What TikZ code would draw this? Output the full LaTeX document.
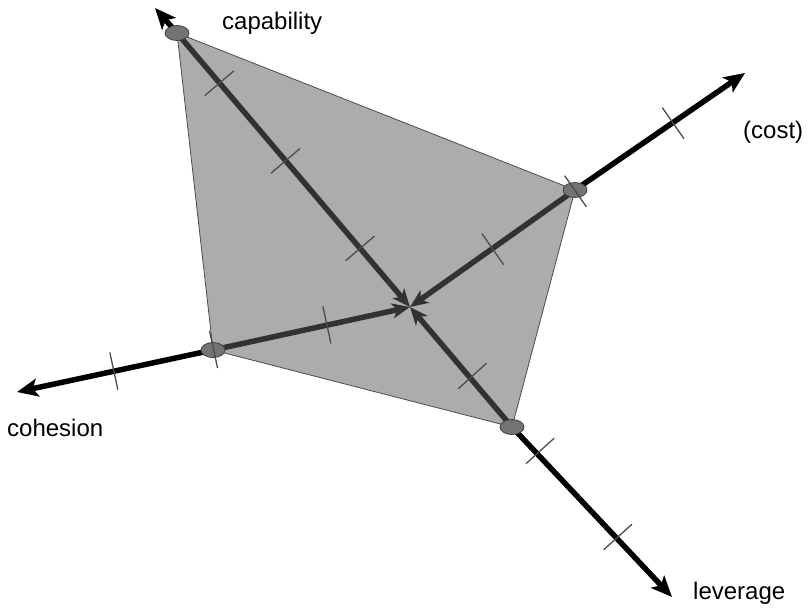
\documentclass[tikz,border=0pt]{standalone}
\usepackage{fontspec}
\setmainfont{Liberation Sans}
\usetikzlibrary{arrows.meta,shapes.geometric,calc,backgrounds}
\definecolor{polyfill}{RGB}{172,172,172}
\definecolor{innerline}{RGB}{50,50,50}
\newcommand\tickat[2]{%
  \coordinate (tp) at ($(C)!#1!(#2)$);
  \draw[tickmark] ($(tp)!19pt!90:(#2)$) -- ($(tp)!19pt!-90:(#2)$);}
\begin{document}
\begin{tikzpicture}[x=1pt,y=-1pt,
  dot/.style={ellipse,draw=black!75,fill=black!55,line width=0.8pt,minimum width=24pt,minimum height=15pt,inner sep=0pt},
  outer/.style={line width=5.5pt,black,-{Stealth[length=21pt,width=18pt,inset=5pt]}},
  inner/.style={line width=5.5pt,innerline,-{Stealth[length=18pt,width=15pt,inset=5pt]}},
  tickmark/.style={line width=1.3pt,black!70},
  poly/.style={fill=polyfill,draw=black!70,line width=0.8pt},
  lbl/.style={font=\fontsize{24}{28}\selectfont,anchor=base west,inner sep=0pt}]
\useasboundingbox (0,0) rectangle (808,608);
\coordinate (C) at (410,307);
\coordinate (capT) at (155,8);
\coordinate (costT) at (745,73);
\coordinate (levT) at (672,597);
\coordinate (cohT) at (17,392);
\node[dot] (cap) at (177,33) {};
\node[dot] (cost) at (575,190) {};
\node[dot] (lev) at (512,427) {};
\node[dot] (coh) at (213,350) {};
\begin{scope}[on background layer]
  \draw[poly] (cap.center) -- (cost.center) -- (lev.center) -- (coh.center) -- cycle;
  \draw[inner] (cap.center) -- (C);
  \draw[inner] (cost.center) -- (C);
  \draw[inner] (lev.center) -- (C);
  \draw[inner] (coh.center) -- (C);
  \draw[outer] (cap.center) -- (capT);
  \draw[outer] (cost.center) -- (costT);
  \draw[outer] (lev.center) -- (levT);
  \draw[outer] (coh.center) -- (cohT);
\end{scope}
\tickat{77pt}{capT}
\tickat{192pt}{capT}
\tickat{294pt}{capT}
\tickat{101pt}{costT}
\tickat{202pt}{costT}
\tickat{321pt}{costT}
\tickat{93pt}{levT}
\tickat{194pt}{levT}
\tickat{310pt}{levT}
\tickat{85pt}{cohT}
\tickat{201pt}{cohT}
\tickat{303pt}{cohT}
\node[lbl] (capL) at (222,29) {capability};
\node[lbl] (costL) at (743,138) {(cost)};
\node[lbl] (cohL) at (7,436) {cohesion};
\node[lbl] (levL) at (693,599) {leverage};
\end{tikzpicture}
\end{document}
